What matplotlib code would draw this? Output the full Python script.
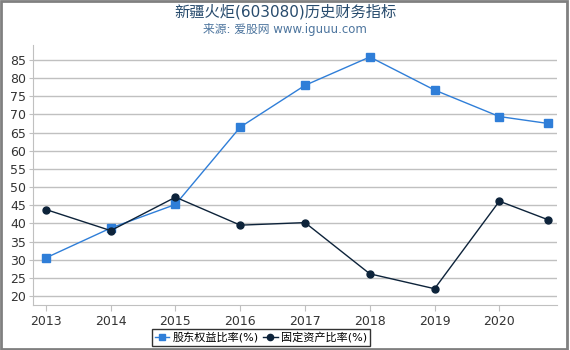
import matplotlib
matplotlib.use("Agg")
import matplotlib.pyplot as plt
from matplotlib.patches import Rectangle

plt.rcParams['font.family'] = ['DejaVu Sans', 'Noto Sans CJK SC']

years = ['2013', '2014', '2015', '2016', '2017', '2018', '2019', '2020']
x_pos = [0, 1, 2, 3, 4, 5, 6, 7, 7.75]
equity_ratio = [30.5, 38.7, 45.2, 66.5, 78.0, 85.8, 76.7, 69.4, 67.5]
fixed_asset_ratio = [43.8, 38.0, 47.2, 39.5, 40.2, 26.1, 22.0, 46.1, 41.0]
yticks = list(range(20, 90, 5))

fig = plt.figure(figsize=(5.7, 3.5), dpi=100)
ax = fig.add_axes([33/570, 1-304.7/350, (557-33)/570, (304.7-45)/350])

ax.plot(x_pos, equity_ratio, color='#2f7ed8', lw=1, marker='s', ms=5.3,
        label='股东权益比率(%)', zorder=3)
ax.plot(x_pos, fixed_asset_ratio, color='#0d233a', lw=1, marker='o', ms=5,
        label='固定资产比率(%)', zorder=3)

ax.set_xlim(-0.2, 7.89)
ax.set_ylim(17.6, 89.1)
ax.set_yticks(yticks)
ax.set_xticks(range(len(years)))
ax.set_xticklabels(years)
ax.grid(axis='y', color='#c0c0c0', lw=1)
ax.set_axisbelow(True)
for s in ['top', 'right']:
    ax.spines[s].set_visible(False)
ax.spines['left'].set_color('#c0c0c0')
ax.spines['bottom'].set_color('#c0c0c0')
ax.tick_params(axis='both', colors='#c0c0c0', labelcolor='#333333', labelsize=9, length=4)
ax.tick_params(axis='y', length=3, pad=2)

fig.text(0.5, 1-12/350, '新疆火炬(603080)历史财务指标', ha='center', va='center',
         fontsize=11, color='#274b6d')
fig.text(0.5, 1-29/350, '来源: 爱股网 www.iguuu.com', ha='center', va='center',
         fontsize=8.5, color='#4d759e')

leg = fig.legend(loc='center', bbox_to_anchor=(261/570, 1-337.5/350), ncol=2,
                 frameon=True, fontsize=8, handlelength=1.3, handletextpad=0.3,
                 columnspacing=0.4, borderpad=0.3, fancybox=False, markerscale=0.9)
leg.get_frame().set_edgecolor('black')
leg.get_frame().set_linewidth(1)

fig.patches.append(Rectangle((0.002, 0.004), 0.993, 0.993, transform=fig.transFigure,
                             fill=False, edgecolor='#808080', lw=2))

fig.savefig('out.png', dpi=100)
